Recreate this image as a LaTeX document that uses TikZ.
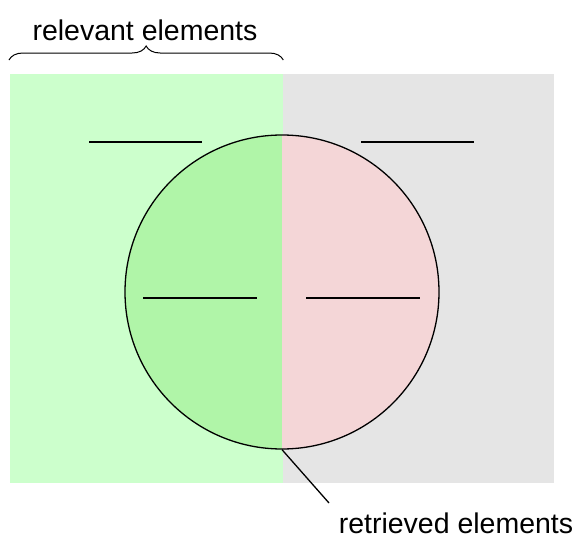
\documentclass[tikz,border=0pt]{standalone}
\usepackage{fontspec}
\setmainfont{Liberation Sans}
\usetikzlibrary{decorations.pathreplacing,positioning}
\definecolor{relgreen}{HTML}{CCFFCC}
\definecolor{irrgray}{HTML}{E5E5E5}
\definecolor{tpgreen}{HTML}{B0F5A8}
\definecolor{fppink}{HTML}{F4D6D7}
\tikzset{
    area/.style={inner sep=0pt, minimum height=409pt, anchor=north west},
    marker/.style={line width=1.3pt},
    caption/.style={font=\fontsize{28.5}{32}\selectfont, inner sep=0pt}
}

\begin{document}
\begin{tikzpicture}[x=1pt,y=-1pt,line width=1.3pt]
    \useasboundingbox (0,0) rectangle (579,538);
    \node[area, fill=irrgray, minimum width=272pt] (irrelevant) at (281,73) {};
    \node[area, fill=relgreen, minimum width=273pt] (relevant) at (9,73) {};

    % circle halves
    \begin{scope}
        \clip (relevant.north west) rectangle (relevant.south east);
        \fill[tpgreen] (282,292) circle[radius=157];
    \end{scope}
    \begin{scope}
        \clip ([xshift=1pt]irrelevant.north west) rectangle (irrelevant.south east);
        \fill[fppink] (282,292) circle[radius=157];
    \end{scope}
    \node[circle, draw, minimum size=314pt, inner sep=0pt] (retrieved) at (282,292) {};

    \draw[marker] (89,142) -- (202,142);
    \draw[marker] (361,142) -- (474,142);
    \draw[marker] (143,298) -- (257,298);
    \draw[marker] (306,298) -- (420,298);

    \coordinate (braceL) at ([yshift=13pt]relevant.north west);
    \coordinate (braceR) at ([yshift=13pt]relevant.north east);
    \draw[decorate, decoration={brace, amplitude=14pt}, line width=1pt] (braceL) -- (braceR);
    \node[caption] (relevantlabel) at (145,30) {relevant elements};

    \coordinate (pointer) at (329,503);
    \draw (retrieved.south) -- (pointer);
    \node[caption] (retrievedlabel) at (456,523) {retrieved elements};
\end{tikzpicture}
\end{document}
